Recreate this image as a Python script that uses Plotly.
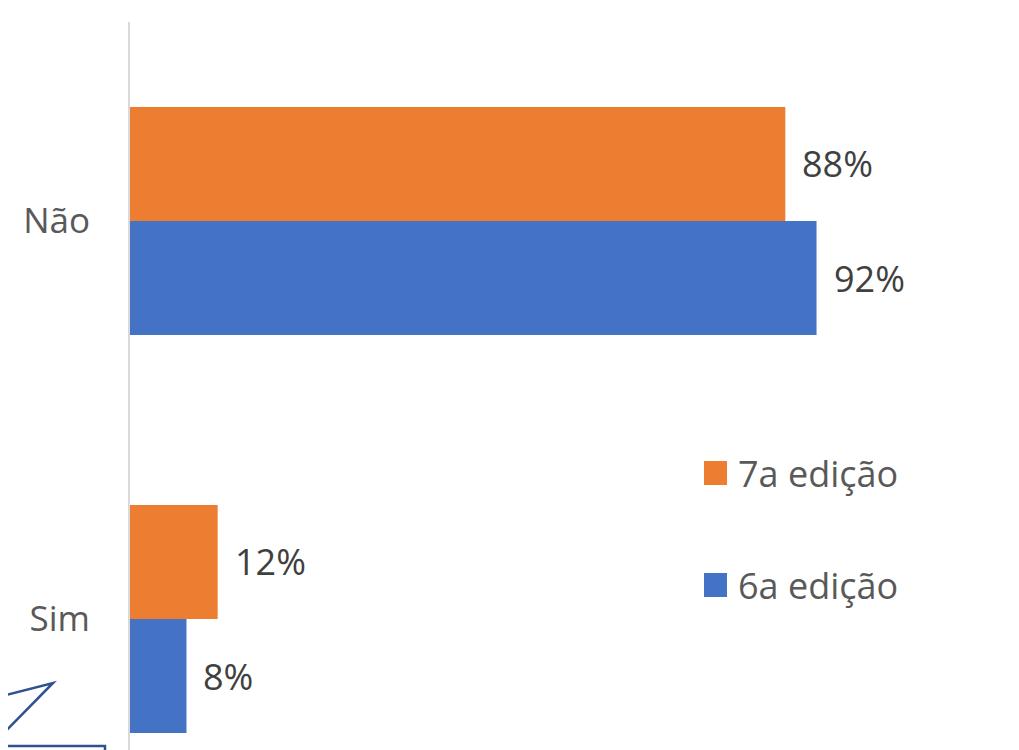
import plotly.graph_objects as go

categories = ["Sim", "Não"]
series_names = ["6a edição", "7a edição"]
values_6a = [0.076, 0.924]
values_7a = [0.118, 0.882]
colors = ["#4472C4", "#ED7D31"]

OFF = 8  # default page body margin
W, H = 1019 - OFF, 750 - OFF
ML, MR, MT, MB = 130 - OFF, 0, 22 - OFF, 0
PW, PH = W - ML - MR, H - MT - MB
BARGAP = 0.427

def px(x):  # reference pixel x -> paper
    return (x - OFF - ML) / PW

def py(y):  # reference pixel y -> paper
    return (H - MB - (y - OFF)) / PH

fig = go.Figure()
all_vals = [values_6a, values_7a]
for name, vals, col in zip(series_names, all_vals, colors):
    fig.add_trace(go.Bar(
        y=categories, x=vals, name=name, orientation="h",
        marker=dict(color=col, line=dict(width=0)),
        showlegend=False, hoverinfo="skip",
    ))

# data labels
bw = (1 - BARGAP) / 2
annotations = []
for si, vals in enumerate(all_vals):
    off = -bw / 2 + si * bw
    for ci, v in enumerate(vals):
        annotations.append(dict(
            x=v, y=ci + off, xref="x", yref="y",
            text=f"{v:.0%}", showarrow=False, xanchor="left", yanchor="middle",
            xshift=15, font=dict(family="Open Sans", size=36, color="#404040"),
        ))

# custom legend (7a on top, 6a below)
shapes = []
legend_items = [(series_names[1], colors[1], 473), (series_names[0], colors[0], 585)]
for name, col, yc in legend_items:
    shapes.append(dict(type="rect", xref="paper", yref="paper",
                       x0=px(704), x1=px(727), y0=py(yc + 12), y1=py(yc - 12),
                       fillcolor=col, line=dict(width=0)))
    annotations.append(dict(x=px(736), y=py(yc), xref="paper", yref="paper",
                            text=name, showarrow=False, xanchor="left", yanchor="middle",
                            font=dict(family="Open Sans", size=36, color="#595959")))

# partial callout shape at bottom left
callout = f"M {px(-2)},{py(697)} L {px(53)},{py(683)} L {px(-2)},{py(739)}"
shapes.append(dict(type="path", xref="paper", yref="paper", path=callout,
                   line=dict(color="#2F528F", width=2.5)))
rect = f"M {px(-2)},{py(746)} L {px(105)},{py(746)} L {px(105)},{py(760)}"
shapes.append(dict(type="path", xref="paper", yref="paper", path=rect,
                   line=dict(color="#2F528F", width=2.5)))

fig.update_layout(
    width=W, height=H,
    margin=dict(l=ML, r=MR, t=MT, b=MB, pad=0),
    paper_bgcolor="white", plot_bgcolor="white",
    barmode="group", bargap=BARGAP, bargroupgap=0,
    font=dict(family="Open Sans", size=34, color="#595959"),
    xaxis=dict(range=[0, PW / 743], showgrid=False, zeroline=False,
               showticklabels=False, showline=False, fixedrange=True),
    yaxis=dict(categoryorder="array", categoryarray=categories,
               range=[1.5 - PH / 398, 1.5], showgrid=False, zeroline=False,
               showline=True, linecolor="#D9D9D9", linewidth=2,
               ticks="", ticklabelstandoff=31,
               tickfont=dict(family="Open Sans", size=35, color="#595959")),
    shapes=shapes, annotations=annotations,
)

fig.write_html("out.html")
